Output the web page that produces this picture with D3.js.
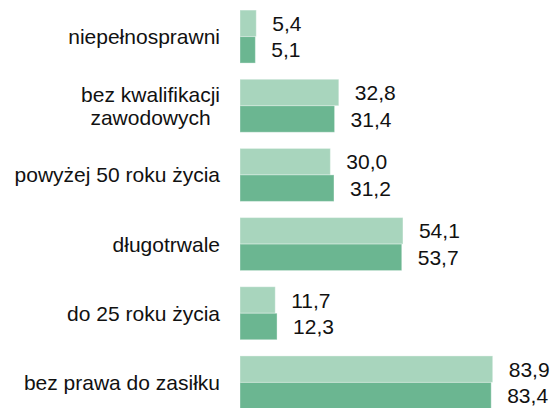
<!DOCTYPE html>
<html>
<head>
<meta charset="utf-8">
<script src="https://cdn.jsdelivr.net/npm/d3@7"></script>
<style>
  html, body { margin: 0; padding: 0; background: #fff; }
  svg { display: block; font-family: 'Liberation Sans', Arial, Helvetica, sans-serif; font-variant-ligatures: none; }
</style>
</head>
<body>
<svg id="chart"></svg>
<script>
(function() {

  // categories (each label may have several lines)
  const categories = [
    ['niepełnosprawni'],
    ['bez kwalifikacji', 'zawodowych'],
    ['powyżej 50 roku życia'],
    ['długotrwale'],
    ['do 25 roku życia'],
    ['bez prawa do zasiłku']
  ];
  const seriesNames = ['first', 'second'];
  const firstValues = [5.4, 32.8, 30.0, 54.1, 11.7, 83.9];
  const secondValues = [5.1, 31.4, 31.2, 53.7, 12.3, 83.4];
  const colors = ['#a8d5bd', '#6bb691'];

  const width = 553;
  const height = 408;
  const fontSize = 21;

  const data = categories.map(function(c, i) {
    return {
      key: c.join(' '),
      lines: c,
      values: [firstValues[i], secondValues[i]]
    };
  });

  const svg = d3.select('#chart')
    .attr('width', width)
    .attr('height', height);

  const y0 = d3.scaleBand()
    .domain(data.map(function(d) { return d.key; }))
    .range([2, 417])
    .paddingInner(0.234)
    .paddingOuter(0.117);

  const y1 = d3.scaleBand()
    .domain(seriesNames)
    .range([0, y0.bandwidth()]);

  const x = d3.scaleLinear()
    .domain([0, 100])
    .range([240, 541.2]);

  const fmt = function(v) { return d3.format('.1f')(v).replace('.', ','); };

  const group = svg.append('g').attr('class', 'bars')
    .selectAll('g')
    .data(data)
    .enter()
    .append('g')
    .attr('transform', function(d) { return 'translate(0,' + y0(d.key) + ')'; });

  const cells = group.selectAll('g')
    .data(function(d) {
      return d.values.map(function(v, i) { return { name: seriesNames[i], value: v, i: i }; });
    })
    .enter()
    .append('g');

  cells.append('rect')
    .attr('x', x(0))
    .attr('y', function(d) { return y1(d.name); })
    .attr('width', function(d) { return x(d.value) - x(0); })
    .attr('height', y1.bandwidth())
    .attr('fill', function(d) { return colors[d.i]; })
    .attr('stroke', '#ffffff')
    .attr('stroke-opacity', 0.35)
    .attr('stroke-width', 1);

  cells.append('text')
    .attr('x', function(d) { return x(d.value) + 16; })
    .attr('y', function(d) { return y1(d.name) + y1.bandwidth() / 2; })
    .attr('dy', '0.36em')
    .style('font-size', fontSize + 'px')
    .attr('fill', '#111')
    .text(function(d) { return fmt(d.value); });

  // category labels, right aligned; extra lines centred under the first
  const lineHeight = 23;
  const labelRight = 220;
  group.each(function(d) {
    const g = d3.select(this);
    const cy = y0.bandwidth() / 2;
    const n = d.lines.length;
    const first = g.append('text')
      .attr('x', labelRight)
      .attr('y', cy - (n - 1) * lineHeight / 2)
      .attr('dy', '0.36em')
      .attr('text-anchor', 'end')
      .style('font-size', fontSize + 'px')
      .attr('fill', '#111')
      .text(d.lines[0]);
    const w = first.node().getComputedTextLength();
    for (let k = 1; k < n; k++) {
      g.append('text')
        .attr('x', labelRight - w / 2)
        .attr('y', cy - (n - 1) * lineHeight / 2 + k * lineHeight)
        .attr('dy', '0.36em')
        .attr('text-anchor', 'middle')
        .style('font-size', fontSize + 'px')
        .attr('fill', '#111')
        .text(d.lines[k]);
    }
  });

})();
</script>
</body>
</html>
